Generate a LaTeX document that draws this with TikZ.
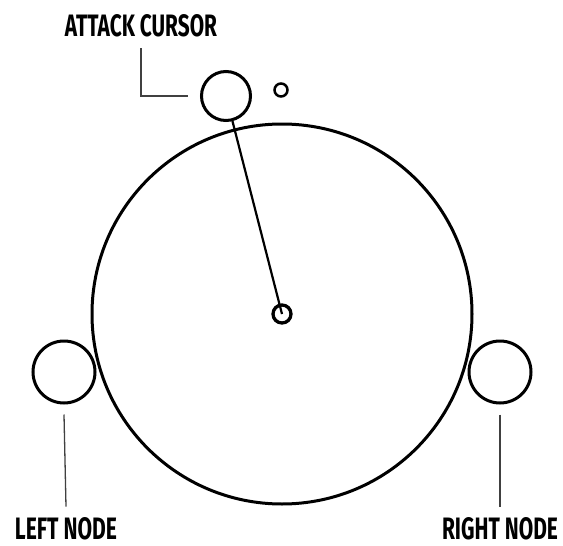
\documentclass[tikz,border=0pt]{standalone}
\usepackage{fontspec}
\usepackage{graphicx}
\newfontfamily\tagfont{Fira Sans}
\newcommand{\tagtext}[2]{\resizebox{#1}{22pt}{\tagfont\bfseries #2}}
\tikzset{
  ring/.style={circle,draw,line width=3pt,inner sep=0pt},
  leader/.style={draw=black!75,line width=1.3pt},
  tag/.style={inner sep=0pt,anchor=center}
}

\begin{document}
\begin{tikzpicture}[x=1pt,y=-1pt]
  \useasboundingbox (0,0) rectangle (563,546);
  \node[ring,minimum size=380pt] (wheel) at (282,314) {};
  \node[ring,line width=3.3pt,minimum size=18pt] (hub) at (282,314) {};
  \node[ring,minimum size=49pt] (cursor) at (226,96) {};
  \node[ring,line width=2.5pt,minimum size=13pt] (dot) at (281,90) {};
  \node[ring,minimum size=62pt] (leftnode) at (64,372) {};
  \node[ring,minimum size=62pt] (rightnode) at (500,372) {};
  \draw[line width=2.2pt] (cursor) -- (hub.center);
  % labels
  \node[tag] (cursorlbl) at (141,26) {\tagtext{152pt}{ATTACK CURSOR}};
  \node[tag] (leftlbl) at (66,529) {\tagtext{102pt}{LEFT NODE}};
  \node[tag] (rightlbl) at (500,529) {\tagtext{116pt}{RIGHT NODE}};
  \draw[leader] ([yshift=-11pt]cursorlbl.south) |- ([xshift=-12pt]cursor.west);
  \draw[leader] ([yshift=-10pt]leftnode.south) -- ([yshift=11pt]leftlbl.north);
  \draw[leader] ([yshift=-10pt]rightnode.south) -- ([yshift=11pt]rightlbl.north);
\end{tikzpicture}
\end{document}
